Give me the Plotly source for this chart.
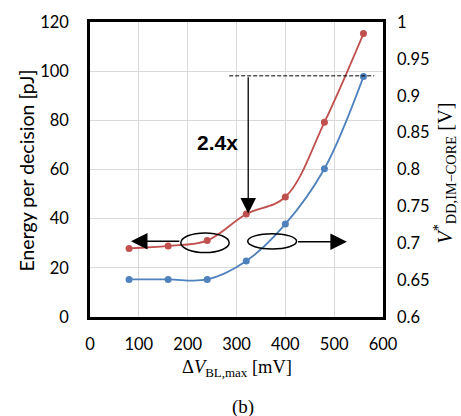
import plotly.graph_objects as go

dv_bl = [80, 160, 240, 320, 400, 480, 560]
energy_pj = [27.9, 28.9, 31.1, 41.9, 48.8, 79.2, 115.3]
vdd_core = [0.651, 0.651, 0.651, 0.676, 0.726, 0.801, 0.926]

x_ticks = [0, 100, 200, 300, 400, 500, 600]
y_left_ticks = [0, 20, 40, 60, 80, 100, 120]
y_right_ticks = [0.6, 0.65, 0.7, 0.75, 0.8, 0.85, 0.9, 0.95, 1.0]

RED = "#C0504D"
BLUE = "#4F81BD"
SANS = "Lato, Liberation Sans, sans-serif"
SERIF = "Liberation Serif, DejaVu Serif, serif"

fig = go.Figure()
fig.add_trace(go.Scatter(
    x=dv_bl, y=energy_pj, mode="lines+markers",
    line=dict(color=RED, width=1.8, shape="spline", smoothing=1),
    marker=dict(color=RED, size=7), yaxis="y", showlegend=False))
fig.add_trace(go.Scatter(
    x=dv_bl, y=vdd_core, mode="lines+markers",
    line=dict(color=BLUE, width=1.8, shape="spline", smoothing=1),
    marker=dict(color=BLUE, size=7), yaxis="y2", showlegend=False))

shapes = [
    dict(type="circle", xref="x", yref="y", x0=186, x1=285, y0=26.2, y1=34.2,
         line=dict(color="black", width=1.5)),
    dict(type="circle", xref="x", yref="y", x0=323, x1=423, y0=27.7, y1=33.9,
         line=dict(color="black", width=1.5)),
    dict(type="line", xref="x", yref="y", x0=285, x1=582, y0=98.1, y1=98.1,
         line=dict(color="black", width=1, dash="4px,2px")),
]

annotations = [
    dict(x=84, y=30.8, ax=186, ay=30.8, xref="x", yref="y", axref="x", ayref="y",
         text="", showarrow=True, arrowhead=2, arrowsize=2.2, arrowwidth=1.5, arrowcolor="black"),
    dict(x=526, y=30.6, ax=423, ay=30.6, xref="x", yref="y", axref="x", ayref="y",
         text="", showarrow=True, arrowhead=2, arrowsize=2.2, arrowwidth=1.5, arrowcolor="black"),
    dict(x=324, y=42.1, ax=324, ay=98.1, xref="x", yref="y", axref="x", ayref="y",
         text="", showarrow=True, arrowhead=2, arrowsize=2.4, arrowwidth=1.3, arrowcolor="black"),
    dict(x=262, y=71.1, xref="x", yref="y", text="<b>2.4x</b>", showarrow=False,
         xanchor="center", yanchor="middle",
         font=dict(family="Liberation Sans Narrow, Liberation Sans, sans-serif", size=21, color="black")),
    dict(x=-0.218, y=0.497, xref="paper", yref="paper", text="Energy per decision [pJ]",
         textangle=-90, showarrow=False, xanchor="center", yanchor="middle",
         font=dict(family=SANS, size=19.5, color="black")),
    dict(x=1.21, y=0.487, xref="paper", yref="paper",
         text="<i>V</i><sup>*</sup><sub>DD,IM−CORE</sub> [V]",
         textangle=-90, showarrow=False, xanchor="center", yanchor="middle",
         font=dict(family=SERIF, size=20.5, color="black")),
    dict(x=0.5017, y=-0.1755, xref="paper", yref="paper",
         text="Δ<i>V</i><sub>BL,max</sub> [mV]", showarrow=False,
         xanchor="center", yanchor="middle",
         font=dict(family=SERIF, size=18.5, color="black")),
    dict(x=0.522, y=-0.3046, xref="paper", yref="paper", text="(b)", showarrow=False,
         xanchor="center", yanchor="middle",
         font=dict(family=SERIF, size=19, color="black")),
]

fig.update_layout(
    width=461, height=416,
    margin=dict(l=90, r=78, t=15, b=99),
    paper_bgcolor="white", plot_bgcolor="white",
    font=dict(family=SANS, size=16.5, color="black"),
    xaxis=dict(range=[0, 600], tickvals=x_ticks, ticktext=[str(v) for v in x_ticks],
               showgrid=True, gridcolor="#D9D9D9", gridwidth=1,
               showline=True, linecolor="black", linewidth=2.5, mirror=True,
               ticks="", ticklabelstandoff=10, zeroline=False),
    yaxis=dict(range=[0, 120], tickvals=y_left_ticks, ticktext=[str(v) for v in y_left_ticks],
               showgrid=True, gridcolor="#D9D9D9", gridwidth=1,
               showline=True, linecolor="black", linewidth=2.5, mirror=True,
               ticks="", ticklabelstandoff=15, zeroline=False),
    yaxis2=dict(range=[0.6, 1.0], tickvals=y_right_ticks,
                ticktext=["0.6", "0.65", "0.7", "0.75", "0.8", "0.85", "0.9", "0.95", "1"],
                overlaying="y", side="right", showgrid=False, zeroline=False,
                showline=False, ticks="", ticklabelstandoff=13),
    shapes=shapes, annotations=annotations,
)

fig.write_html("out.html")
